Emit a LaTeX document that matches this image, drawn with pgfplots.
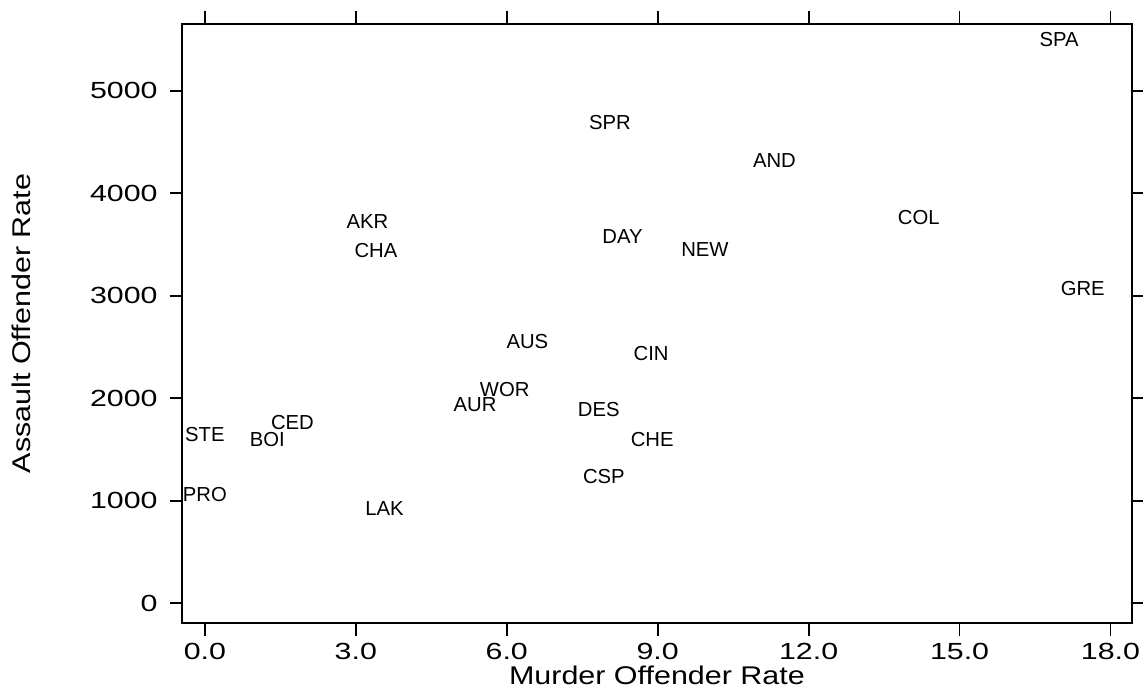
\documentclass[border=0pt]{standalone}
\usepackage{fontspec}
\setmainfont{Liberation Sans}
\newfontfamily\tickfont[FakeStretch=1.3]{Liberation Sans}
\newfontfamily\labfont[FakeStretch=1.19]{Liberation Sans}
\usepackage{pgfplots}
\pgfplotsset{compat=1.18}
\usepackage{pgfplotstable}
\pgfplotstableread{
x y label
16.98 5496 SPA
8.05 4689 SPR
11.32 4322 AND
14.19 3761 COL
3.23 3723 AKR
8.30 3583 DAY
3.40 3441 CHA
9.94 3450 NEW
17.45 3070 GRE
6.41 2559 AUS
8.87 2442 CIN
5.96 2090 WOR
5.37 1937 AUR
7.83 1894 DES
1.74 1761 CED
0.00 1645 STE
1.24 1598 BOI
8.89 1601 CHE
7.93 1235 CSP
0.00 1064 PRO
3.57 922 LAK
}\datatable
\begin{document}
\begin{tikzpicture}
\useasboundingbox (0,0) rectangle (857.25pt,516pt);
\begin{axis}[
  at={(136.7pt,48.5pt)}, anchor=south west,
  scale only axis, width=712pt, height=449.7pt,
  xmin=-0.45, xmax=18.42, ymin=-195, ymax=5655,
  xtick={0,3,...,18}, ytick={0,1000,...,5000},
  tick align=outside, major tick length=9.5pt,
  tick style={line width=1.4pt, black},
  axis line style={line width=1.4pt},
  /pgf/number format/assume math mode=true,
  x tick label style={/pgf/number format/.cd, fixed, fixed zerofill, precision=1, /tikz/.cd, yshift=-2pt},
  y tick label style={/pgf/number format/.cd, 1000 sep={}, /tikz/.cd, xshift=-5.5pt},
  tick label style={font=\tickfont\fontsize{17.5}{20}\selectfont},
  xlabel={Murder Offender Rate},
  ylabel={Assault Offender Rate},
  xlabel style={at={(axis description cs:0.5,-0.087)}, anchor=center},
  ylabel style={at={(axis description cs:-0.169,0.5)}, anchor=center},
  label style={font=\labfont\fontsize{19.2}{22}\selectfont},
]
\addplot[draw=none, mark=none, nodes near coords, point meta=explicit symbolic,
  nodes near coords align={center},
  every node near coord/.style={font=\fontsize{15.2}{18}\selectfont, inner sep=0pt, anchor=center}]
  table[x=x, y=y, meta=label] {\datatable};
\end{axis}
\end{tikzpicture}
\end{document}
